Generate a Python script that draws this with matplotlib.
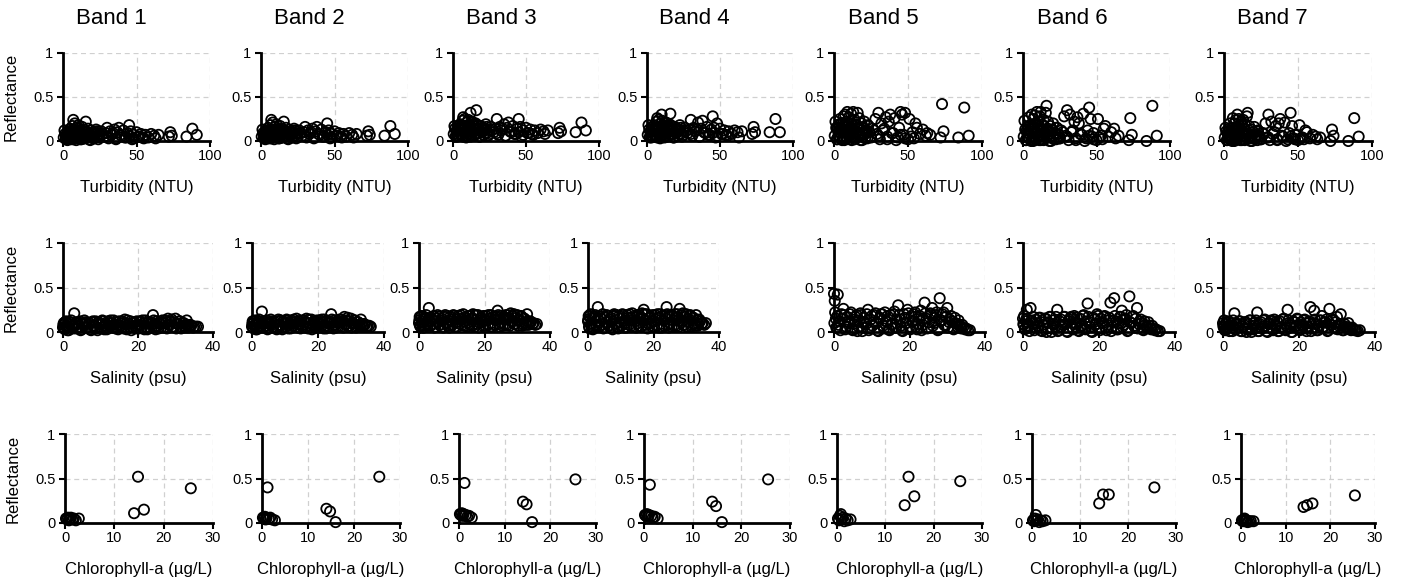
import matplotlib.pyplot as plt

plt.rcParams['font.family'] = ['Liberation Sans Narrow', 'Liberation Sans', 'DejaVu Sans']

bands = ['Band 1', 'Band 2', 'Band 3', 'Band 4', 'Band 5', 'Band 6', 'Band 7']

# ---- Turbidity (NTU) vs reflectance ----
turbidity = [1, 2, 2.5, 3, 4, 4.5, 5, 5.5, 6, 6.5, 7, 7.5, 8, 8.5, 9, 9.5, 10, 10.5, 11, 11.5,
             12, 12.5, 13, 13.5, 14, 15, 15.5, 16, 16.5, 17, 18, 18.5, 19, 20, 20.5, 21, 22, 22.5, 23, 24,
             25, 26, 28, 29, 30, 31, 32, 33, 35, 36, 37, 38, 40, 41, 42, 44, 45, 46, 47, 48,
             50, 51, 53, 55, 56, 58, 60, 62, 63, 65, 72, 73, 74, 84, 88, 91,
             0.5, 1.5, 2, 3, 3.5, 4, 5, 6, 6, 7, 7, 8, 8, 9, 10, 10, 11, 12, 12, 13,
             14, 14, 15, 16, 17, 18, 19, 20, 21, 22, 23, 25, 27, 30, 34, 36, 39, 43, 45, 48,
             52, 54]

turb_b1 = [0.12, 0.03, 0.08, 0.01, 0.10, 0.05, 0.14, 0.02, 0.09, 0.17, 0.24, 0.06, 0.20, 0.11, 0.01, 0.15, 0.07, 0.18, 0.04, 0.12,
           0.09, 0.02, 0.16, 0.06, 0.13, 0.03, 0.22, 0.10, 0.05, 0.14, 0.08, 0.01, 0.12, 0.06, 0.10, 0.03, 0.09, 0.13, 0.05, 0.02,
           0.08, 0.11, 0.05, 0.09, 0.15, 0.03, 0.11, 0.07, 0.13, 0.02, 0.10, 0.15, 0.06, 0.12, 0.04, 0.09, 0.18, 0.11, 0.02, 0.07,
           0.10, 0.05, 0.08, 0.03, 0.07, 0.04, 0.08, 0.06, 0.03, 0.07, 0.05, 0.10, 0.06, 0.05, 0.14, 0.07,
           0.04, 0.08, 0.02, 0.06, 0.11, 0.03, 0.07, 0.12, 0.04, 0.09, 0.02, 0.06, 0.10, 0.03, 0.08, 0.12, 0.05, 0.02, 0.09, 0.06,
           0.11, 0.03, 0.07, 0.04, 0.10, 0.02, 0.06, 0.09, 0.03, 0.07, 0.11, 0.04, 0.08, 0.05, 0.09, 0.03, 0.07, 0.04, 0.06, 0.03,
           0.05, 0.04]
turb_b2 = [0.13, 0.04, 0.09, 0.02, 0.11, 0.06, 0.15, 0.03, 0.10, 0.18, 0.24, 0.07, 0.21, 0.12, 0.02, 0.16, 0.08, 0.19, 0.05, 0.13,
           0.10, 0.03, 0.17, 0.07, 0.14, 0.04, 0.22, 0.11, 0.06, 0.15, 0.09, 0.02, 0.13, 0.07, 0.11, 0.04, 0.10, 0.14, 0.06, 0.03,
           0.09, 0.12, 0.06, 0.10, 0.16, 0.04, 0.12, 0.08, 0.14, 0.03, 0.11, 0.16, 0.07, 0.13, 0.05, 0.10, 0.20, 0.12, 0.03, 0.08,
           0.11, 0.06, 0.09, 0.04, 0.08, 0.05, 0.09, 0.07, 0.04, 0.08, 0.06, 0.11, 0.07, 0.06, 0.17, 0.08,
           0.05, 0.09, 0.03, 0.07, 0.12, 0.04, 0.08, 0.13, 0.05, 0.10, 0.03, 0.07, 0.11, 0.04, 0.09, 0.13, 0.06, 0.03, 0.10, 0.07,
           0.12, 0.04, 0.08, 0.05, 0.11, 0.03, 0.07, 0.10, 0.04, 0.08, 0.12, 0.05, 0.09, 0.06, 0.10, 0.04, 0.08, 0.05, 0.07, 0.04,
           0.06, 0.05]
turb_b3 = [0.17, 0.06, 0.12, 0.05, 0.15, 0.09, 0.19, 0.06, 0.14, 0.23, 0.27, 0.10, 0.25, 0.16, 0.04, 0.21, 0.12, 0.24, 0.08, 0.18,
           0.32, 0.06, 0.22, 0.11, 0.19, 0.07, 0.20, 0.35, 0.09, 0.18, 0.13, 0.05, 0.17, 0.10, 0.15, 0.07, 0.14, 0.19, 0.09, 0.06,
           0.13, 0.16, 0.10, 0.14, 0.25, 0.07, 0.16, 0.12, 0.19, 0.06, 0.15, 0.21, 0.10, 0.17, 0.08, 0.14, 0.25, 0.16, 0.05, 0.12,
           0.15, 0.09, 0.13, 0.07, 0.12, 0.09, 0.13, 0.11, 0.08, 0.12, 0.09, 0.15, 0.11, 0.10, 0.21, 0.12,
           0.08, 0.14, 0.05, 0.11, 0.17, 0.06, 0.12, 0.18, 0.07, 0.15, 0.05, 0.10, 0.16, 0.06, 0.13, 0.18, 0.09, 0.05, 0.14, 0.10,
           0.17, 0.06, 0.12, 0.08, 0.15, 0.05, 0.11, 0.14, 0.07, 0.12, 0.16, 0.08, 0.13, 0.09, 0.14, 0.06, 0.11, 0.08, 0.10, 0.07,
           0.09, 0.08]
turb_b4 = [0.18, 0.05, 0.11, 0.04, 0.14, 0.08, 0.18, 0.05, 0.13, 0.22, 0.26, 0.09, 0.24, 0.15, 0.03, 0.20, 0.30, 0.23, 0.07, 0.17,
           0.21, 0.05, 0.21, 0.10, 0.18, 0.06, 0.19, 0.31, 0.08, 0.17, 0.12, 0.04, 0.16, 0.09, 0.14, 0.06, 0.13, 0.18, 0.08, 0.05,
           0.12, 0.15, 0.09, 0.13, 0.24, 0.06, 0.15, 0.11, 0.21, 0.05, 0.14, 0.23, 0.09, 0.16, 0.07, 0.13, 0.28, 0.15, 0.04, 0.20,
           0.14, 0.08, 0.12, 0.06, 0.11, 0.08, 0.12, 0.10, 0.04, 0.11, 0.08, 0.16, 0.10, 0.10, 0.25, 0.10,
           0.07, 0.13, 0.04, 0.10, 0.16, 0.05, 0.11, 0.17, 0.06, 0.14, 0.04, 0.09, 0.15, 0.05, 0.12, 0.17, 0.08, 0.04, 0.13, 0.09,
           0.16, 0.05, 0.11, 0.07, 0.14, 0.04, 0.10, 0.13, 0.06, 0.11, 0.15, 0.07, 0.12, 0.08, 0.13, 0.05, 0.10, 0.07, 0.09, 0.06,
           0.08, 0.07]
turb_b5 = [0.22, 0.02, 0.14, 0.06, 0.25, 0.10, 0.20, 0.01, 0.17, 0.28, 0.12, 0.30, 0.05, 0.22, 0.33, 0.08, 0.27, 0.15, 0.02, 0.31,
           0.19, 0.11, 0.33, 0.04, 0.24, 0.09, 0.18, 0.32, 0.13, 0.26, 0.06, 0.20, 0.01, 0.15, 0.22, 0.08, 0.12, 0.03, 0.18, 0.10,
           0.05, 0.14, 0.25, 0.08, 0.32, 0.02, 0.20, 0.12, 0.27, 0.05, 0.22, 0.30, 0.09, 0.26, 0.01, 0.15, 0.33, 0.30, 0.07, 0.32,
           0.02, 0.25, 0.10, 0.20, 0.15, 0.08, 0.13, 0.06, 0.09, 0.07, 0.04, 0.42, 0.11, 0.04, 0.38, 0.06,
           0.06, 0.15, 0.02, 0.10, 0.19, 0.04, 0.12, 0.20, 0.03, 0.16, 0.01, 0.09, 0.18, 0.03, 0.13, 0.20, 0.07, 0.01, 0.15, 0.08,
           0.19, 0.02, 0.11, 0.05, 0.16, 0.01, 0.09, 0.14, 0.03, 0.10, 0.17, 0.04, 0.12, 0.06, 0.14, 0.02, 0.09, 0.04, 0.07, 0.03,
           0.05, 0.03]
turb_b6 = [0.23, 0.01, 0.12, 0.05, 0.27, 0.08, 0.18, 0.00, 0.30, 0.15, 0.25, 0.03, 0.29, 0.20, 0.10, 0.33, 0.06, 0.22, 0.01, 0.28,
           0.33, 0.14, 0.19, 0.02, 0.24, 0.07, 0.32, 0.40, 0.11, 0.22, 0.04, 0.17, 0.00, 0.13, 0.20, 0.06, 0.09, 0.02, 0.15, 0.08,
           0.03, 0.12, 0.28, 0.06, 0.35, 0.01, 0.30, 0.10, 0.22, 0.03, 0.27, 0.20, 0.07, 0.31, 0.00, 0.12, 0.38, 0.25, 0.05, 0.09,
           0.01, 0.25, 0.06, 0.14, 0.17, 0.05, 0.10, 0.14, 0.03, 0.06, 0.01, 0.26, 0.07, 0.00, 0.40, 0.06,
           0.05, 0.13, 0.01, 0.09, 0.17, 0.03, 0.11, 0.18, 0.02, 0.14, 0.00, 0.08, 0.16, 0.02, 0.12, 0.18, 0.06, 0.01, 0.13, 0.07,
           0.17, 0.01, 0.10, 0.04, 0.14, 0.00, 0.08, 0.12, 0.02, 0.09, 0.15, 0.03, 0.10, 0.05, 0.12, 0.01, 0.08, 0.03, 0.06, 0.02,
           0.04, 0.02]
turb_b7 = [0.15, 0.01, 0.10, 0.03, 0.20, 0.06, 0.14, 0.00, 0.26, 0.12, 0.20, 0.02, 0.24, 0.15, 0.30, 0.07, 0.25, 0.17, 0.01, 0.22,
           0.18, 0.10, 0.24, 0.02, 0.19, 0.05, 0.28, 0.32, 0.08, 0.17, 0.03, 0.13, 0.00, 0.10, 0.16, 0.04, 0.07, 0.01, 0.11, 0.06,
           0.02, 0.09, 0.20, 0.04, 0.30, 0.01, 0.22, 0.08, 0.17, 0.02, 0.20, 0.25, 0.05, 0.21, 0.00, 0.09, 0.32, 0.17, 0.03, 0.07,
           0.01, 0.18, 0.04, 0.12, 0.10, 0.03, 0.07, 0.05, 0.02, 0.04, 0.00, 0.13, 0.06, 0.00, 0.26, 0.05,
           0.04, 0.11, 0.01, 0.07, 0.14, 0.02, 0.09, 0.15, 0.02, 0.12, 0.00, 0.06, 0.13, 0.02, 0.10, 0.15, 0.05, 0.01, 0.11, 0.06,
           0.14, 0.01, 0.08, 0.03, 0.12, 0.00, 0.06, 0.10, 0.02, 0.07, 0.12, 0.02, 0.08, 0.04, 0.10, 0.01, 0.06, 0.02, 0.05, 0.02,
           0.03, 0.02]

# ---- Salinity (psu) vs reflectance ----
salinity = [0, 0.2, 0.5, 0.8, 1, 1.5, 2, 2.5, 3, 3.5, 4, 4.5, 5, 5.5, 6, 6.5, 7, 7.5, 8, 8.5,
            9, 9.5, 10, 10.5, 11, 11.5, 12, 12.5, 13, 13.5, 14, 14.5, 15, 15.5, 16, 16.5, 17, 17.5, 18, 18.5,
            19, 19.5, 20, 20.5, 21, 21.5, 22, 22.5, 23, 23.5, 24, 24.5, 25, 25.5, 26, 26.5, 27, 27.5, 28, 28.5,
            29, 29.5, 30, 30.5, 31, 31.5, 32, 32.5, 33, 33.5, 34, 35, 36,
            0.1, 0.3, 0.6, 0.9, 1.2, 1.7, 2.2, 2.7, 3.2, 3.7, 4.2, 4.7, 5.2, 5.7, 6.2, 6.7, 7.2, 7.7, 8.2, 8.7,
            9.2, 9.7, 10.2, 10.7, 11.2, 11.7, 12.2, 12.7, 13.2, 13.7, 14.2, 14.7, 15.2, 15.7, 16.2, 16.7, 17.2, 17.7, 18.2, 18.7,
            19.2, 19.7, 20.2, 20.7, 21.2, 21.7, 22.2, 22.7, 23.2, 23.7, 24.2, 24.7, 25.2, 25.7, 26.2, 26.7, 27.2, 27.7, 28.2, 28.7,
            29.2, 29.7, 30.2, 30.7, 31.2, 31.7, 32.2, 32.7, 33.2, 33.7, 34.2, 34.7, 35.5]

sal_b1 = [0.05, 0.10, 0.03, 0.12, 0.07, 0.02, 0.11, 0.06, 0.21, 0.04, 0.09, 0.12, 0.03, 0.08, 0.11, 0.05, 0.10, 0.02, 0.12, 0.07,
          0.04, 0.11, 0.08, 0.13, 0.03, 0.09, 0.12, 0.06, 0.10, 0.13, 0.04, 0.08, 0.12, 0.05, 0.10, 0.14, 0.03, 0.09, 0.12, 0.06,
          0.11, 0.04, 0.08, 0.12, 0.05, 0.10, 0.13, 0.03, 0.09, 0.11, 0.19, 0.06, 0.12, 0.04, 0.09, 0.13, 0.05, 0.11, 0.15, 0.08,
          0.14, 0.06, 0.15, 0.09, 0.12, 0.04, 0.10, 0.07, 0.13, 0.05, 0.08, 0.06, 0.06,
          0.08, 0.04, 0.11, 0.06, 0.02, 0.09, 0.13, 0.04, 0.08, 0.11, 0.06, 0.02, 0.10, 0.13, 0.05, 0.08, 0.03, 0.11, 0.07, 0.12,
          0.02, 0.09, 0.05, 0.12, 0.07, 0.03, 0.10, 0.13, 0.05, 0.08, 0.11, 0.03, 0.07, 0.12, 0.04, 0.09, 0.13, 0.06, 0.02, 0.10,
          0.07, 0.12, 0.04, 0.08, 0.13, 0.03, 0.06, 0.11, 0.05, 0.09, 0.13, 0.03, 0.07, 0.11, 0.05, 0.10, 0.13, 0.04, 0.08, 0.12,
          0.06, 0.11, 0.04, 0.09, 0.12, 0.06, 0.10, 0.05, 0.08, 0.06, 0.07, 0.05, 0.06]
sal_b2 = [0.06, 0.12, 0.04, 0.13, 0.08, 0.03, 0.12, 0.07, 0.23, 0.05, 0.10, 0.13, 0.04, 0.09, 0.12, 0.06, 0.11, 0.03, 0.14, 0.08,
          0.05, 0.12, 0.09, 0.14, 0.04, 0.10, 0.13, 0.07, 0.11, 0.15, 0.05, 0.09, 0.13, 0.06, 0.11, 0.15, 0.04, 0.10, 0.14, 0.07,
          0.12, 0.05, 0.09, 0.13, 0.06, 0.11, 0.14, 0.04, 0.10, 0.12, 0.20, 0.07, 0.13, 0.05, 0.10, 0.14, 0.06, 0.12, 0.17, 0.09,
          0.16, 0.07, 0.15, 0.10, 0.13, 0.05, 0.11, 0.08, 0.14, 0.06, 0.09, 0.07, 0.06,
          0.09, 0.05, 0.12, 0.07, 0.03, 0.10, 0.14, 0.05, 0.09, 0.12, 0.07, 0.03, 0.11, 0.14, 0.06, 0.09, 0.04, 0.12, 0.08, 0.13,
          0.03, 0.10, 0.06, 0.13, 0.08, 0.04, 0.11, 0.14, 0.06, 0.09, 0.12, 0.04, 0.08, 0.13, 0.05, 0.10, 0.14, 0.07, 0.03, 0.11,
          0.08, 0.13, 0.05, 0.09, 0.14, 0.04, 0.07, 0.12, 0.06, 0.10, 0.14, 0.04, 0.08, 0.12, 0.06, 0.11, 0.14, 0.05, 0.09, 0.13,
          0.07, 0.12, 0.05, 0.10, 0.13, 0.07, 0.11, 0.06, 0.09, 0.07, 0.08, 0.06, 0.07]
sal_b3 = [0.10, 0.17, 0.06, 0.18, 0.12, 0.05, 0.16, 0.09, 0.27, 0.07, 0.14, 0.18, 0.06, 0.12, 0.17, 0.08, 0.15, 0.05, 0.19, 0.11,
          0.07, 0.17, 0.12, 0.19, 0.06, 0.14, 0.18, 0.09, 0.15, 0.20, 0.07, 0.13, 0.18, 0.08, 0.15, 0.20, 0.06, 0.14, 0.19, 0.10,
          0.16, 0.07, 0.13, 0.18, 0.08, 0.15, 0.19, 0.06, 0.14, 0.17, 0.24, 0.09, 0.18, 0.07, 0.14, 0.19, 0.08, 0.16, 0.21, 0.12,
          0.20, 0.09, 0.19, 0.13, 0.17, 0.07, 0.15, 0.10, 0.20, 0.08, 0.12, 0.10, 0.09,
          0.13, 0.07, 0.17, 0.09, 0.05, 0.14, 0.19, 0.07, 0.12, 0.16, 0.09, 0.05, 0.15, 0.19, 0.08, 0.13, 0.06, 0.17, 0.10, 0.18,
          0.05, 0.14, 0.08, 0.18, 0.11, 0.06, 0.15, 0.19, 0.08, 0.12, 0.16, 0.06, 0.11, 0.18, 0.07, 0.14, 0.19, 0.09, 0.05, 0.15,
          0.11, 0.18, 0.07, 0.13, 0.19, 0.06, 0.10, 0.17, 0.08, 0.14, 0.19, 0.06, 0.11, 0.17, 0.08, 0.15, 0.19, 0.07, 0.12, 0.18,
          0.09, 0.16, 0.07, 0.14, 0.18, 0.09, 0.15, 0.08, 0.12, 0.10, 0.11, 0.09, 0.08]
sal_b4 = [0.12, 0.18, 0.04, 0.20, 0.10, 0.03, 0.17, 0.08, 0.28, 0.06, 0.15, 0.20, 0.05, 0.11, 0.18, 0.07, 0.16, 0.03, 0.20, 0.10,
          0.06, 0.18, 0.11, 0.20, 0.05, 0.13, 0.19, 0.08, 0.16, 0.21, 0.06, 0.12, 0.19, 0.07, 0.16, 0.21, 0.25, 0.13, 0.20, 0.09,
          0.17, 0.06, 0.12, 0.19, 0.07, 0.16, 0.20, 0.05, 0.13, 0.18, 0.28, 0.08, 0.19, 0.06, 0.13, 0.20, 0.07, 0.17, 0.26, 0.11,
          0.21, 0.08, 0.20, 0.12, 0.18, 0.06, 0.16, 0.09, 0.19, 0.07, 0.14, 0.10, 0.10,
          0.14, 0.06, 0.18, 0.08, 0.04, 0.15, 0.19, 0.06, 0.13, 0.17, 0.08, 0.04, 0.16, 0.19, 0.07, 0.14, 0.05, 0.18, 0.09, 0.19,
          0.04, 0.15, 0.07, 0.19, 0.10, 0.05, 0.16, 0.20, 0.07, 0.13, 0.17, 0.05, 0.10, 0.19, 0.06, 0.15, 0.20, 0.08, 0.04, 0.16,
          0.10, 0.19, 0.06, 0.14, 0.20, 0.05, 0.09, 0.18, 0.07, 0.15, 0.20, 0.05, 0.10, 0.18, 0.07, 0.16, 0.20, 0.06, 0.13, 0.19,
          0.08, 0.17, 0.06, 0.15, 0.19, 0.08, 0.16, 0.07, 0.13, 0.09, 0.12, 0.09, 0.08]
sal_b5 = [0.43, 0.35, 0.15, 0.05, 0.42, 0.12, 0.20, 0.26, 0.03, 0.17, 0.10, 0.22, 0.02, 0.14, 0.19, 0.06, 0.21, 0.01, 0.16, 0.09,
          0.25, 0.04, 0.18, 0.11, 0.21, 0.02, 0.15, 0.20, 0.07, 0.22, 0.12, 0.03, 0.19, 0.09, 0.23, 0.05, 0.30, 0.14, 0.02, 0.20,
          0.10, 0.25, 0.06, 0.18, 0.12, 0.22, 0.03, 0.16, 0.24, 0.08, 0.33, 0.15, 0.05, 0.21, 0.27, 0.10, 0.19, 0.02, 0.38, 0.13,
          0.22, 0.07, 0.27, 0.11, 0.18, 0.04, 0.16, 0.09, 0.13, 0.06, 0.08, 0.04, 0.02,
          0.10, 0.22, 0.05, 0.18, 0.08, 0.02, 0.15, 0.19, 0.06, 0.12, 0.20, 0.03, 0.09, 0.17, 0.01, 0.13, 0.19, 0.05, 0.11, 0.20,
          0.02, 0.14, 0.07, 0.19, 0.10, 0.01, 0.16, 0.20, 0.04, 0.12, 0.18, 0.02, 0.08, 0.20, 0.05, 0.14, 0.19, 0.07, 0.01, 0.16,
          0.10, 0.21, 0.03, 0.12, 0.20, 0.06, 0.09, 0.18, 0.02, 0.15, 0.21, 0.04, 0.11, 0.19, 0.07, 0.16, 0.22, 0.03, 0.13, 0.20,
          0.08, 0.17, 0.05, 0.14, 0.12, 0.03, 0.10, 0.06, 0.08, 0.04, 0.05, 0.03, 0.02]
sal_b6 = [0.15, 0.08, 0.03, 0.12, 0.25, 0.06, 0.27, 0.10, 0.02, 0.14, 0.07, 0.16, 0.01, 0.11, 0.15, 0.04, 0.17, 0.00, 0.13, 0.06,
          0.25, 0.02, 0.14, 0.08, 0.17, 0.01, 0.12, 0.16, 0.05, 0.18, 0.09, 0.02, 0.15, 0.07, 0.19, 0.03, 0.32, 0.11, 0.01, 0.16,
          0.08, 0.20, 0.04, 0.15, 0.10, 0.18, 0.02, 0.13, 0.33, 0.06, 0.38, 0.12, 0.03, 0.17, 0.24, 0.08, 0.15, 0.01, 0.40, 0.10,
          0.18, 0.05, 0.27, 0.09, 0.14, 0.03, 0.12, 0.06, 0.11, 0.04, 0.07, 0.03, 0.01,
          0.09, 0.18, 0.04, 0.15, 0.07, 0.01, 0.13, 0.17, 0.05, 0.10, 0.16, 0.02, 0.08, 0.15, 0.00, 0.11, 0.17, 0.04, 0.09, 0.17,
          0.01, 0.12, 0.06, 0.17, 0.09, 0.00, 0.14, 0.17, 0.03, 0.10, 0.16, 0.01, 0.07, 0.18, 0.04, 0.12, 0.17, 0.06, 0.00, 0.14,
          0.09, 0.18, 0.02, 0.11, 0.17, 0.05, 0.08, 0.16, 0.01, 0.13, 0.18, 0.03, 0.10, 0.17, 0.06, 0.14, 0.19, 0.02, 0.11, 0.17,
          0.07, 0.15, 0.04, 0.12, 0.10, 0.02, 0.08, 0.05, 0.07, 0.03, 0.04, 0.02, 0.01]
sal_b7 = [0.10, 0.05, 0.02, 0.09, 0.04, 0.12, 0.07, 0.01, 0.21, 0.10, 0.05, 0.12, 0.01, 0.08, 0.11, 0.03, 0.13, 0.00, 0.10, 0.04,
          0.22, 0.01, 0.11, 0.06, 0.14, 0.01, 0.09, 0.12, 0.03, 0.14, 0.07, 0.01, 0.12, 0.05, 0.15, 0.02, 0.25, 0.08, 0.00, 0.12,
          0.06, 0.15, 0.03, 0.11, 0.07, 0.14, 0.01, 0.10, 0.28, 0.04, 0.24, 0.09, 0.02, 0.13, 0.18, 0.06, 0.11, 0.01, 0.26, 0.08,
          0.14, 0.04, 0.17, 0.07, 0.20, 0.02, 0.09, 0.05, 0.10, 0.03, 0.05, 0.02, 0.02,
          0.07, 0.13, 0.03, 0.11, 0.05, 0.01, 0.10, 0.13, 0.03, 0.08, 0.12, 0.01, 0.06, 0.11, 0.00, 0.09, 0.13, 0.03, 0.07, 0.13,
          0.01, 0.09, 0.04, 0.13, 0.07, 0.00, 0.10, 0.13, 0.02, 0.08, 0.12, 0.01, 0.05, 0.14, 0.03, 0.09, 0.13, 0.05, 0.00, 0.11,
          0.07, 0.14, 0.02, 0.08, 0.13, 0.04, 0.06, 0.12, 0.01, 0.10, 0.14, 0.02, 0.07, 0.13, 0.05, 0.11, 0.14, 0.02, 0.08, 0.13,
          0.05, 0.11, 0.03, 0.09, 0.08, 0.02, 0.06, 0.04, 0.05, 0.02, 0.03, 0.02, 0.01]

# ---- Chlorophyll-a (ug/L) vs reflectance ----
chl = [0.2, 0.4, 0.6, 0.8, 1.0, 1.2, 1.5, 1.8, 2.2, 2.8, 14.0, 14.8, 16.0, 25.5]

chl_b1 = [0.05, 0.04, 0.06, 0.03, 0.05, 0.06, 0.04, 0.05, 0.03, 0.05, 0.11, 0.52, 0.15, 0.39]
chl_b2 = [0.06, 0.05, 0.07, 0.04, 0.06, 0.40, 0.05, 0.06, 0.04, 0.03, 0.16, 0.13, 0.01, 0.52]
chl_b3 = [0.10, 0.09, 0.11, 0.08, 0.10, 0.45, 0.09, 0.07, 0.08, 0.06, 0.24, 0.21, 0.01, 0.49]
chl_b4 = [0.09, 0.08, 0.10, 0.07, 0.09, 0.43, 0.08, 0.06, 0.07, 0.05, 0.24, 0.19, 0.01, 0.49]
chl_b5 = [0.05, 0.03, 0.08, 0.10, 0.04, 0.06, 0.02, 0.05, 0.03, 0.04, 0.20, 0.52, 0.30, 0.47]
chl_b6 = [0.03, 0.02, 0.05, 0.09, 0.03, 0.04, 0.01, 0.03, 0.02, 0.03, 0.22, 0.32, 0.32, 0.40]
chl_b7 = [0.03, 0.02, 0.04, 0.05, 0.02, 0.03, 0.01, 0.02, 0.02, 0.02, 0.18, 0.20, 0.22, 0.31]

rows = [
    (turbidity, [turb_b1, turb_b2, turb_b3, turb_b4, turb_b5, turb_b6, turb_b7], 'Turbidity (NTU)', [0, 50, 100]),
    (salinity, [sal_b1, sal_b2, sal_b3, sal_b4, sal_b5, sal_b6, sal_b7], 'Salinity (psu)', [0, 20, 40]),
    (chl, [chl_b1, chl_b2, chl_b3, chl_b4, chl_b5, chl_b6, chl_b7], 'Chlorophyll-a (µg/L)', [0, 10, 20, 30]),
]

# panel placement in pixels (left, right) per row, plus top/bottom of each row
W, H = 1403, 588
row_tb = [(53, 141), (243, 332), (434, 523)]
row_lr = [
    [(63, 210), (261, 408), (453, 599), (647, 793), (834, 982), (1023, 1170), (1224, 1372)],
    [(63, 213), (252, 384), (419, 550), (588, 719), (834, 985), (1023, 1175), (1223, 1375)],
    [(65, 213), (262, 400), (459, 596), (644, 790), (837, 982), (1032, 1176), (1241, 1375)],
]
title_x = [111, 309, 501, 694, 883, 1072, 1272]

fig = plt.figure(figsize=(W / 100, H / 100), dpi=100)

for r, (x, ys, xlabel, xticks) in enumerate(rows):
    top, bot = row_tb[r]
    for c in range(7):
        assert len(ys[c]) == len(x), (r, c, len(ys[c]), len(x))
        left, right = row_lr[r][c]
        ax = fig.add_axes([left / W, 1 - bot / H, (right - left) / W, (bot - top) / H])
        ax.scatter(x, ys[c], s=54, facecolors='none', edgecolors='black', linewidths=1.3,
                   clip_on=False, zorder=3)
        ax.set_xlim(0, xticks[-1])
        ax.set_ylim(0, 1)
        ax.set_xticks(xticks)
        ax.set_yticks([0, 0.5, 1])
        ax.set_yticklabels(['0', '0.5', '1'])
        ax.grid(True, color='#d0d0d0', linestyle=(0, (4, 3)), linewidth=0.9)
        ax.set_axisbelow(True)
        for s in ['top', 'right']:
            ax.spines[s].set_visible(False)
        for s in ['left', 'bottom']:
            ax.spines[s].set_linewidth(2)
            ax.spines[s].set_zorder(4)
        ax.tick_params(direction='out', length=4, width=1.5, labelsize=10.5, pad=2)
        ax.tick_params(axis='y', pad=3)
        ax.set_xlabel(xlabel, fontsize=12, labelpad=12)
        if c == 0:
            ax.set_ylabel('Reflectance', fontsize=12, labelpad=10)

for c, name in enumerate(bands):
    fig.text(title_x[c] / W, 1 - 19 / H, name, fontsize=16, ha='center', va='center')

fig.savefig('out.png', dpi=100)
